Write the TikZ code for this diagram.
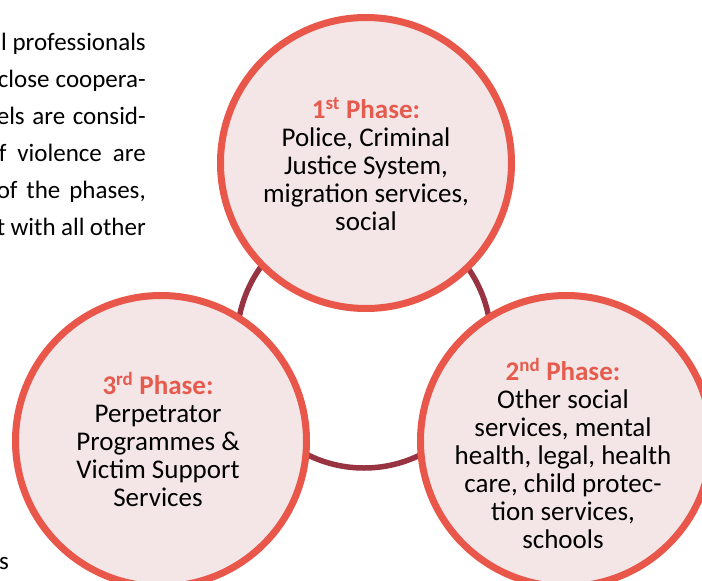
\documentclass[tikz,border=0pt]{standalone}
\usepackage{fontspec}
\setmainfont{Carlito}
\definecolor{phaseline}{HTML}{E8574A}
\definecolor{phasefill}{HTML}{F4E6E7}
\definecolor{ringcol}{HTML}{983341}
\definecolor{titlecol}{HTML}{E55B4D}
\begin{document}
\begin{tikzpicture}[x=1pt,y=-1pt,
  phasecircle/.style={circle, draw=phaseline, fill=phasefill, line width=7pt, minimum size=291pt, inner sep=0pt},
  ringline/.style={draw=ringcol, line width=5.5pt},
  phasetext/.style={align=center, inner sep=0pt, font=\fontsize{27}{28}\selectfont, text=black},
  bodytext/.style={anchor=base east, inner sep=0pt, font=\fontsize{25}{37}\selectfont, text=black}
]
\clip (0,0) rectangle (702,581);
\fill[white] (0,0) rectangle (702,581);
% ring connecting the phases
\coordinate (ringc) at (364,341);
\draw[ringline] (ringc) circle[radius=127];
% phase circles
\node[phasecircle] (c1) at (366,163) {};
\node[phasecircle] (c3) at (161,441) {};
\node[phasecircle] (c2) at (566,441) {};
% phase texts
\node[phasetext] (t1) at (366,164) {{\bfseries\color{titlecol}1\textsuperscript{st} Phase:}\\Police, Criminal\\Justice System,\\migration services,\\social};
\node[phasetext] (t3) at (158,439) {{\bfseries\color{titlecol}3\textsuperscript{rd} Phase:}\\Perpetrator\\Programmes \&\\Victim Support\\Services};
\node[phasetext] (t2) at (563,453) {{\bfseries\color{titlecol}2\textsuperscript{nd} Phase:}\\Other social\\services, mental\\health, legal, health\\care, child protec-\\tion services,\\schools};
% body text at the left edge
\node[bodytext] (l1) at (146,50) {l professionals};
\node[bodytext] (l2) at (146,87) {\makebox[148pt][s]{close coopera-}};
\node[bodytext] (l3) at (146,124) {\makebox[149pt][s]{els are consid-}};
\node[bodytext] (l4) at (146,161) {\makebox[147pt][s]{f violence are}};
\node[bodytext] (l5) at (146,198) {\makebox[149pt][s]{of the phases,}};
\node[bodytext] (l6) at (146,235) {\makebox[149pt][s]{t with all other}};
\node[bodytext] (l7) at (9,569) {s};
\end{tikzpicture}
\end{document}
